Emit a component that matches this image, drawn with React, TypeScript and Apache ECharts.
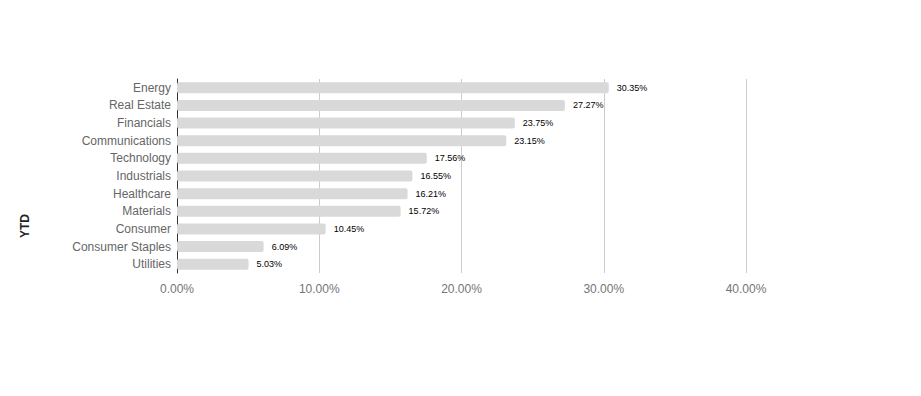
import React, { useEffect, useRef } from "react";
import * as echarts from "echarts";

const categories = [
  "Energy",
  "Real Estate",
  "Financials",
  "Communications",
  "Technology",
  "Industrials",
  "Healthcare",
  "Materials",
  "Consumer",
  "Consumer Staples",
  "Utilities",
];
const ytdValues = [30.35, 27.27, 23.75, 23.15, 17.56, 16.55, 16.21, 15.72, 10.45, 6.09, 5.03];
const axisTicks = [0, 10, 20, 30, 40];

export default function App() {
  const ref = useRef<HTMLDivElement>(null);
  useEffect(() => {
    if (!ref.current) return;
    const chart = echarts.init(ref.current, undefined, { renderer: "svg" });
    chart.setOption({
      animation: false,
      backgroundColor: "#ffffff",
      textStyle: { fontFamily: "'Liberation Sans', Arial, sans-serif" },
      grid: { left: 169, top: 71, width: 569, height: 194, containLabel: false },
      xAxis: {
        type: "value",
        min: axisTicks[0],
        max: axisTicks[axisTicks.length - 1],
        interval: 10,
        axisLine: { show: false },
        axisTick: { show: false },
        splitLine: { show: true, lineStyle: { color: "#cccccc", width: 1 } },
        axisLabel: {
          color: "#757575",
          fontSize: 12,
          margin: 10,
          formatter: (v: number) => `${v.toFixed(2)}%`,
        },
      },
      yAxis: {
        type: "category",
        data: categories,
        inverse: true,
        axisLine: { show: true, lineStyle: { color: "#333333", width: 1 } },
        axisTick: { show: false },
        axisLabel: { color: "#666666", fontSize: 12, margin: 6 },
      },
      graphic: [
        {
          type: "text",
          x: 17,
          y: 218,
          rotation: Math.PI / 2,
          style: {
            text: "YTD",
            fill: "#222222",
            font: "bold 12px 'Liberation Sans', Arial, sans-serif",
            align: "center",
            verticalAlign: "middle",
          },
        },
      ],
      series: [
        {
          type: "bar",
          data: ytdValues,
          barWidth: 11,
          itemStyle: { color: "#d9d9d9", borderRadius: 2 },
          label: {
            show: true,
            position: "right",
            distance: 8,
            color: "#000000",
            fontSize: 9,
            formatter: (p: any) => `${p.value.toFixed(2)}%`,
          },
        },
      ],
    });
    return () => chart.dispose();
  }, []);
  return <div ref={ref} style={{ width: 905, height: 380 }} />;
}
